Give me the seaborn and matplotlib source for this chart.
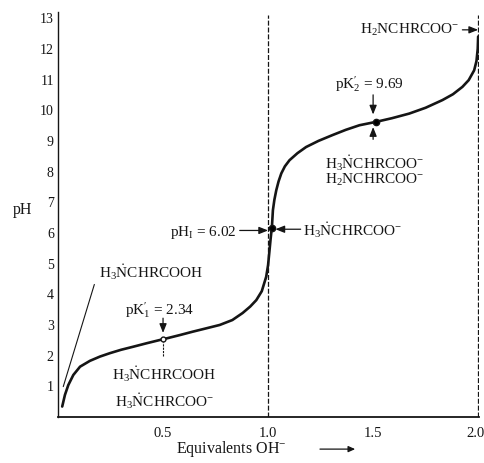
import matplotlib
matplotlib.use("Agg")
import matplotlib.pyplot as plt
import seaborn as sns
import pandas as pd

# ---- data ----
equiv = [0.020, 0.033, 0.049, 0.073, 0.105, 0.152, 0.200, 0.247, 0.300, 0.358, 0.420,
         0.485, 0.516, 0.580, 0.641, 0.700, 0.770, 0.830, 0.879, 0.915, 0.944, 0.970,
         0.991, 1.000, 1.007, 1.012, 1.015, 1.018, 1.023, 1.030, 1.039, 1.050, 1.063,
         1.080, 1.102, 1.140, 1.181, 1.240, 1.307, 1.370, 1.435, 1.514, 1.590, 1.672,
         1.750, 1.830, 1.880, 1.925, 1.955, 1.981, 1.992, 1.998, 2.000]
ph = [0.34, 0.72, 1.04, 1.37, 1.64, 1.83, 1.97, 2.08, 2.19, 2.29, 2.40,
      2.51, 2.56, 2.67, 2.78, 2.88, 3.00, 3.16, 3.39, 3.60, 3.81, 4.10,
      4.57, 4.95, 5.44, 5.80, 5.99, 6.16, 6.74, 7.08, 7.39, 7.68, 7.94,
      8.17, 8.37, 8.60, 8.80, 9.00, 9.19, 9.36, 9.51, 9.62, 9.74, 9.89,
      10.08, 10.33, 10.52, 10.76, 10.98, 11.30, 11.60, 12.00, 12.40]

marker_x = [0.5, 1.018, 1.514]
marker_y = [2.53, 6.16, 9.62]
marker_fill = ["white", "black", "black"]

yticks = list(range(1, 14))
xticks = [0.5, 1.0, 1.5, 2.0]
xtick_labels = ["0.5", "1.0", "1.5", "2.0"]

pK1_label = r"p$\mathrm{K}_1^{\prime}$ = 2.34"
pK2_label = r"p$\mathrm{K}_2^{\prime}$ = 9.69"
pI_label = r"pH$_\mathrm{I}$ = 6.02"
cation = r"H$_3\dot{\mathrm{N}}$CHRCOOH"
zwitter = r"H$_3\dot{\mathrm{N}}$CHRCOO$^{-}$"
anion = r"H$_2$NCHRCOO$^{-}$"

# ---- style ----
sns.set_theme(style="white")
plt.rcParams["font.family"] = ["Liberation Serif", "DejaVu Serif"]
plt.rcParams["mathtext.fontset"] = "custom"
plt.rcParams["mathtext.rm"] = "Liberation Serif"
plt.rcParams["mathtext.it"] = "Liberation Serif:italic"
plt.rcParams["mathtext.bf"] = "Liberation Serif:bold"

ink = "#151515"
fig = plt.figure(figsize=(4.85, 4.63), dpi=100)
ax = fig.add_axes([0.1196, 0.0994, 0.8680, 0.8746])

df = pd.DataFrame({"equiv": equiv, "pH": ph})
sns.lineplot(data=df, x="equiv", y="pH", ax=ax, color=ink, linewidth=1.9, sort=False)

for mx, my, mf in zip(marker_x, marker_y, marker_fill):
    ax.plot(mx, my, "o", ms=4.5 if mf == "black" else 3.5, mfc=mf, mec=ink, mew=1.0, zorder=5)

ax.set_xlim(0, 2.004)
ax.set_ylim(0, 13.2)
ax.set_yticks(yticks)
ax.set_yticklabels([str(t) for t in yticks])
ax.set_xticks(xticks)
ax.set_xticklabels(xtick_labels)
ax.tick_params(axis="y", direction="in", length=5, width=1.0, colors=ink,
               labelsize=10, pad=3)
ax.tick_params(axis="x", direction="in", length=3, width=1.0, colors=ink,
               labelsize=10.5, pad=7)
last = ax.get_xticklabels()[-1]
last.set_horizontalalignment("right")
last.set_x(2.0)
import matplotlib.transforms as mtransforms
last.set_transform(last.get_transform() + mtransforms.ScaledTranslation(6 / 100, 0, fig.dpi_scale_trans))

for s in ["top", "right"]:
    ax.spines[s].set_visible(False)
ax.spines["left"].set_color(ink)
ax.spines["left"].set_linewidth(1.0)
ax.spines["left"].set_linestyle((0, (4, 1)))
ax.spines["bottom"].set_color(ink)
ax.spines["bottom"].set_linewidth(1.3)

# vertical dashed guides
ax.axvline(1.0, ymin=0, ymax=13.1 / 13.2, color=ink, lw=0.9, ls=(0, (4, 1.5)))
ax.axvline(2.0, ymin=0, ymax=13.1 / 13.2, color=ink, lw=0.9, ls=(0, (4, 1.5)))
ax.plot([0.5, 0.5], [2.0, 2.45], color=ink, lw=0.8, ls=(0, (2, 1)))

ax.set_xlabel("")
ax.set_ylabel("")
ax.text(-0.171, 6.74, "pH", ha="center", va="center", fontsize=11.5, color=ink, clip_on=False)

arrow = dict(arrowstyle="-|>,head_length=0.45,head_width=0.18", color=ink, lw=0.9,
             shrinkA=0, shrinkB=0)
fs = 11

# top right anion
ax.text(1.91, 12.62, anion, ha="right", va="center", fontsize=fs, color=ink)
ax.annotate("", xy=(2.0, 12.62), xytext=(1.925, 12.62), arrowprops=arrow)

# pK2
ax.text(1.48, 10.85, pK2_label, ha="center", va="center", fontsize=fs, color=ink)
ax.annotate("", xy=(1.5, 9.86), xytext=(1.5, 10.5), arrowprops=arrow)
ax.annotate("", xy=(1.5, 9.45), xytext=(1.5, 9.05), arrowprops=arrow)
ax.text(1.506, 8.27, zwitter, ha="center", va="center", fontsize=fs, color=ink)
ax.text(1.506, 7.72, anion, ha="center", va="center", fontsize=fs, color=ink)

# pI
ax.text(0.85, 6.02, pI_label, ha="right", va="center", fontsize=fs, color=ink)
ax.annotate("", xy=(1.0, 6.08), xytext=(0.865, 6.08), arrowprops=arrow)
ax.text(1.165, 6.08, zwitter, ha="left", va="center", fontsize=fs, color=ink)
ax.annotate("", xy=(1.035, 6.12), xytext=(1.155, 6.12), arrowprops=arrow)

# cation, left
ax.text(0.444, 4.72, cation, ha="center", va="center", fontsize=fs, color=ink)
ax.plot([0.173, 0.025], [4.32, 0.99], color=ink, lw=0.8)

# pK1
ax.text(0.485, 3.50, pK1_label, ha="center", va="center", fontsize=fs, color=ink)
ax.annotate("", xy=(0.5, 2.74), xytext=(0.5, 3.22), arrowprops=arrow)
ax.text(0.505, 1.40, cation, ha="center", va="center", fontsize=fs, color=ink)
ax.text(0.505, 0.50, zwitter, ha="center", va="center", fontsize=fs, color=ink)

# x label with arrow
fig.text(0.476, 0.030, r"Equivalents OH$^{-}$", ha="center", va="center", fontsize=11.5, color=ink)
fig.add_artist(matplotlib.patches.FancyArrowPatch((0.654, 0.030), (0.738, 0.030),
               transform=fig.transFigure, arrowstyle="-|>,head_length=4,head_width=1.8",
               color=ink, lw=0.9))

fig.savefig("out.png", dpi=100, facecolor="white")
